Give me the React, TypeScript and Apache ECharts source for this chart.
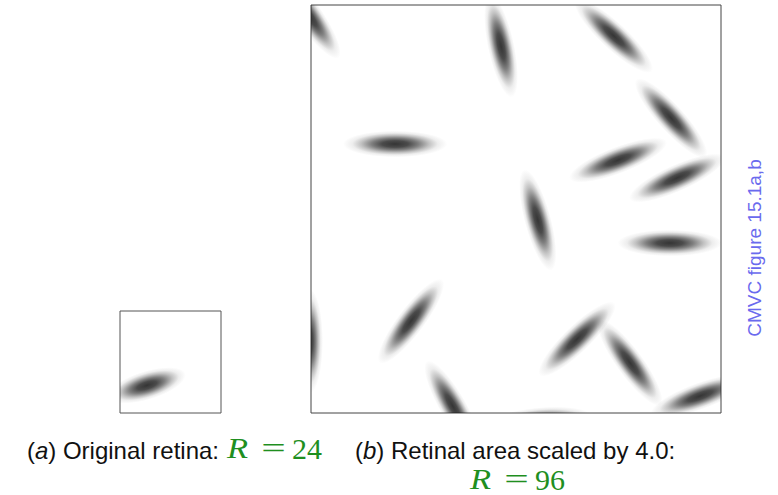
import React, { useEffect, useRef } from "react";
import * as echarts from "echarts";

// Blob centres in retina units (x to the right, y downward) and orientation in degrees (counter-clockwise)
const smallX = [6.4];
const smallY = [17.5];
const smallAngle = [17];

const largeX = [-0.5, 44.5, 19.7, 70.9, 84.3, 71.9, 85.7, 53.1, 84.0, 62.3, 74.7, 91.1, 53.6, 23.4, -0.3, 33.2];
const largeY = [2.4, 9.7, 32.7, 7.3, 26.6, 36.5, 40.7, 50.6, 56.0, 78.6, 84.2, 92.0, 97.8, 74.4, 79.1, 94.4];
const largeAngle = [-55, -78, 0, -43, -48, 21, 24, -75, 0, 44, -54, 20, 5, 53, 90, -60];

const smallR = 24;
const largeR = 96;

const blobGradient = () =>
  new echarts.graphic.RadialGradient(0.5, 0.5, 0.5, [
    { offset: 0, color: "rgba(35,35,35,0.92)" },
    { offset: 0.25, color: "rgba(35,35,35,0.82)" },
    { offset: 0.45, color: "rgba(35,35,35,0.58)" },
    { offset: 0.65, color: "rgba(35,35,35,0.28)" },
    { offset: 0.82, color: "rgba(35,35,35,0.08)" },
    { offset: 1, color: "rgba(35,35,35,0)" },
  ]);

const makeRender = (halfLen: number, halfWid: number) => (params: any, api: any) => {
  const c = api.coord([api.value(0), api.value(1)]);
  const s = api.size([1, 1]);
  return {
    type: "ellipse",
    x: c[0],
    y: c[1],
    rotation: (api.value(2) * Math.PI) / 180,
    shape: { cx: 0, cy: 0, rx: halfLen * s[0], ry: halfWid * s[0] },
    style: { fill: blobGradient() },
  };
};

export default function App() {
  const ref = useRef<HTMLDivElement>(null);
  useEffect(() => {
    if (!ref.current) return;
    const chart = echarts.init(ref.current, null, { renderer: "svg" });
    const smallData = smallX.map((x, i) => [x, smallY[i], smallAngle[i]]);
    const largeData = largeX.map((x, i) => [x, largeY[i], largeAngle[i]]);
    const sans = "'Liberation Sans', Arial, Helvetica, sans-serif";
    const serif = "'Liberation Serif', 'Times New Roman', serif";
    const green = "#1f8f1f";
    chart.setOption({
      animation: false,
      backgroundColor: "#ffffff",
      grid: [
        { left: 120, top: 311, width: 101, height: 102, show: true, borderColor: "#555", borderWidth: 1, backgroundColor: "#fff" },
        { left: 311, top: 5, width: 410, height: 408, show: true, borderColor: "#444", borderWidth: 1, backgroundColor: "#fff" },
      ],
      xAxis: [
        { gridIndex: 0, type: "value", min: 0, max: smallR, show: false },
        { gridIndex: 1, type: "value", min: 0, max: largeR, show: false },
      ],
      yAxis: [
        { gridIndex: 0, type: "value", min: 0, max: smallR, inverse: true, show: false },
        { gridIndex: 1, type: "value", min: 0, max: largeR, inverse: true, show: false },
      ],
      series: [
        {
          type: "custom",
          xAxisIndex: 0,
          yAxisIndex: 0,
          clip: true,
          renderItem: makeRender(9.6, 3.4),
          data: smallData,
        },
        {
          type: "custom",
          xAxisIndex: 1,
          yAxisIndex: 1,
          clip: true,
          renderItem: makeRender(12.2, 3.1),
          data: largeData,
        },
      ],
      graphic: [
        {
          type: "text",
          x: 219,
          y: 450,
          style: {
            text: "({i|a}) Original retina:",
            font: `24px ${sans}`,
            fill: "#111",
            align: "right",
            verticalAlign: "middle",
            rich: { i: { fontStyle: "italic", fontSize: 24, fontFamily: sans, fill: "#111" } },
          },
        },
        { type: "text", x: 227, y: 448, scaleX: 1.15, style: { text: "R", font: `italic 30px ${serif}`, fill: green, verticalAlign: "middle" } },
        { type: "text", x: 273.5, y: 448, scaleX: 1.45, style: { text: "=", font: `30px ${serif}`, fill: green, align: "center", verticalAlign: "middle" } },
        { type: "text", x: 292, y: 448, style: { text: "24", font: `30px ${serif}`, fill: green, verticalAlign: "middle" } },
        {
          type: "text",
          x: 355,
          y: 450,
          style: {
            text: "({i|b}) Retinal area scaled by 4.0:",
            font: `24px ${sans}`,
            fill: "#111",
            align: "left",
            verticalAlign: "middle",
            rich: { i: { fontStyle: "italic", fontSize: 24, fontFamily: sans, fill: "#111" } },
          },
        },
        { type: "text", x: 470, y: 479, scaleX: 1.15, style: { text: "R", font: `italic 30px ${serif}`, fill: green, verticalAlign: "middle" } },
        { type: "text", x: 516.5, y: 479, scaleX: 1.45, style: { text: "=", font: `30px ${serif}`, fill: green, align: "center", verticalAlign: "middle" } },
        { type: "text", x: 535, y: 479, style: { text: "96", font: `30px ${serif}`, fill: green, verticalAlign: "middle" } },
        {
          type: "text",
          x: 754,
          y: 248,
          rotation: Math.PI / 2,
          style: { text: "CMVC figure 15.1a,b", font: `19px ${sans}`, fill: "#6a6aee", align: "center", verticalAlign: "middle" },
        },
      ],
    });
    return () => chart.dispose();
  }, []);
  return <div ref={ref} style={{ position: "fixed", left: 0, top: 0, width: 778, height: 495 }} />;
}
